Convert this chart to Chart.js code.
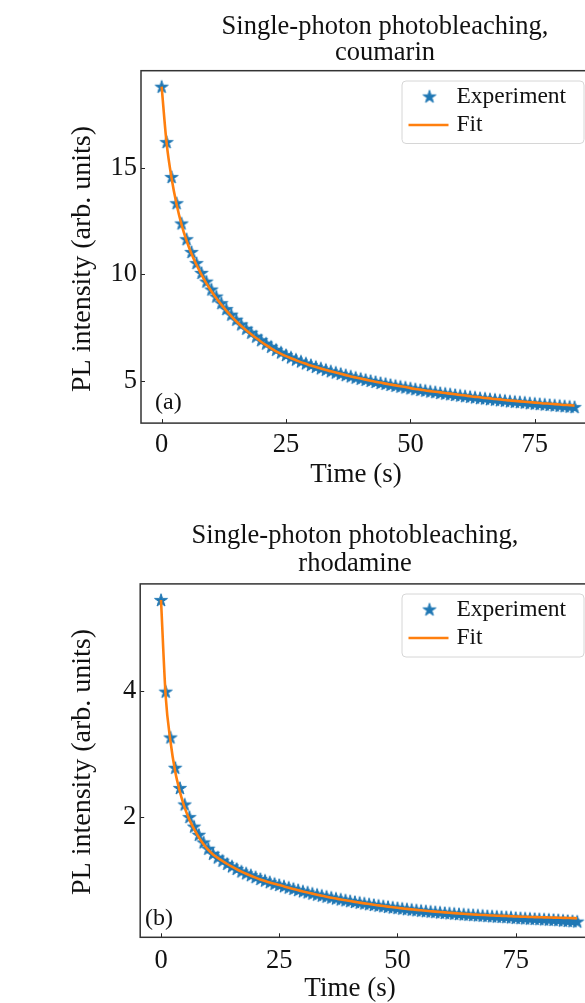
<!DOCTYPE html>
<html>
<head>
<meta charset="utf-8">
<script src="https://cdn.jsdelivr.net/npm/chart.js@4.4.0/dist/chart.umd.min.js"></script>
<style>
    html, body { margin: 0; padding: 0; background: #fff; overflow: hidden; width: 585px; height: 1003px; }
    .panel { position: absolute; left: 0; }
</style>
</head>
<body>
<canvas id="coumarinChart" class="panel" style="top:0" width="700" height="500"></canvas>
<canvas id="rhodamineChart" class="panel" style="top:500px" width="700" height="503"></canvas>
<script>
// Single-photon photobleaching data
const coumarinTime = [
    0, 1, 2, 3, 4, 5, 6, 7, 8, 9,
    10, 11, 12, 13, 14, 15, 16, 17, 18, 19,
    20, 21, 22, 23, 24, 25, 26, 27, 28, 29,
    30, 31, 32, 33, 34, 35, 36, 37, 38, 39,
    40, 41, 42, 43, 44, 45, 46, 47, 48, 49,
    50, 51, 52, 53, 54, 55, 56, 57, 58, 59,
    60, 61, 62, 63, 64, 65, 66, 67, 68, 69,
    70, 71, 72, 73, 74, 75, 76, 77, 78, 79,
    80, 81, 82, 83
];
const coumarinExperiment = [
    18.8, 16.2, 14.56, 13.33, 12.38, 11.64, 11.04, 10.52, 10.06, 9.65,
    9.28, 8.95, 8.64, 8.36, 8.1, 7.86, 7.64, 7.44, 7.25, 7.07,
    6.9, 6.74, 6.59, 6.45, 6.32, 6.2, 6.09, 5.99, 5.9, 5.81,
    5.73, 5.65, 5.58, 5.51, 5.44, 5.38, 5.32, 5.26, 5.2, 5.14,
    5.09, 5.04, 4.99, 4.94, 4.89, 4.85, 4.8, 4.76, 4.72, 4.68,
    4.64, 4.6, 4.56, 4.53, 4.49, 4.46, 4.42, 4.39, 4.36, 4.33,
    4.3, 4.27, 4.24, 4.21, 4.18, 4.16, 4.13, 4.11, 4.08, 4.06,
    4.03, 4.01, 3.99, 3.97, 3.94, 3.92, 3.9, 3.88, 3.86, 3.84,
    3.82, 3.8, 3.78, 3.76
];
const coumarinFit = [
    18.8, 16.15, 14.5, 13.28, 12.33, 11.58, 10.96, 10.44, 9.98, 9.57,
    9.2, 8.87, 8.57, 8.29, 8.03, 7.79, 7.57, 7.37, 7.18, 7.0,
    6.83, 6.67, 6.52, 6.38, 6.26, 6.15, 6.05, 5.96, 5.87, 5.79,
    5.71, 5.64, 5.57, 5.5, 5.44, 5.38, 5.32, 5.26, 5.2, 5.15,
    5.1, 5.05, 5.0, 4.95, 4.91, 4.86, 4.82, 4.78, 4.74, 4.7,
    4.65, 4.61, 4.58, 4.54, 4.51, 4.48, 4.45, 4.42, 4.39, 4.36,
    4.33, 4.3, 4.27, 4.24, 4.22, 4.19, 4.17, 4.14, 4.12, 4.09,
    4.07, 4.05, 4.03, 4.01, 3.99, 3.97, 3.95, 3.93, 3.92, 3.9,
    3.88, 3.86, 3.85, 3.83
];

const rhodamineTime = [
    0, 1, 2, 3, 4, 5, 6, 7, 8, 9,
    10, 11, 12, 13, 14, 15, 16, 17, 18, 19,
    20, 21, 22, 23, 24, 25, 26, 27, 28, 29,
    30, 31, 32, 33, 34, 35, 36, 37, 38, 39,
    40, 41, 42, 43, 44, 45, 46, 47, 48, 49,
    50, 51, 52, 53, 54, 55, 56, 57, 58, 59,
    60, 61, 62, 63, 64, 65, 66, 67, 68, 69,
    70, 71, 72, 73, 74, 75, 76, 77, 78, 79,
    80, 81, 82, 83, 84, 85, 86, 87, 88
];
const rhodamineExperiment = [
    5.435, 3.985, 3.26, 2.78, 2.46, 2.2, 2.0, 1.85, 1.72, 1.6,
    1.5, 1.42, 1.36, 1.31, 1.26, 1.22, 1.18, 1.14, 1.11, 1.08,
    1.05, 1.02, 0.995, 0.97, 0.945, 0.925, 0.905, 0.885, 0.865, 0.845,
    0.825, 0.808, 0.79, 0.773, 0.757, 0.741, 0.726, 0.711, 0.697, 0.683,
    0.67, 0.657, 0.645, 0.633, 0.621, 0.61, 0.599, 0.589, 0.579, 0.569,
    0.56, 0.551, 0.542, 0.534, 0.526, 0.518, 0.511, 0.504, 0.497, 0.49,
    0.483, 0.477, 0.471, 0.465, 0.459, 0.454, 0.449, 0.444, 0.439, 0.434,
    0.43, 0.425, 0.421, 0.417, 0.413, 0.405, 0.401, 0.397, 0.393, 0.389,
    0.385, 0.381, 0.377, 0.373, 0.369, 0.362, 0.357, 0.352, 0.347
];
const rhodamineFit = [
    5.435, 3.9, 3.2, 2.72, 2.4, 2.15, 1.96, 1.81, 1.68, 1.57,
    1.48, 1.41, 1.355, 1.305, 1.258, 1.215, 1.175, 1.138, 1.104, 1.072,
    1.042, 1.014, 0.988, 0.964, 0.944, 0.925, 0.903, 0.882, 0.862, 0.843,
    0.824, 0.806, 0.789, 0.772, 0.756, 0.74, 0.725, 0.711, 0.697, 0.684,
    0.671, 0.659, 0.647, 0.635, 0.624, 0.613, 0.603, 0.593, 0.583, 0.574,
    0.565, 0.556, 0.548, 0.54, 0.532, 0.525, 0.518, 0.511, 0.504, 0.498,
    0.492, 0.486, 0.48, 0.475, 0.47, 0.465, 0.46, 0.456, 0.452, 0.448,
    0.444, 0.44, 0.437, 0.434, 0.431, 0.428, 0.425, 0.422, 0.42, 0.418,
    0.416, 0.414, 0.412, 0.41, 0.408, 0.406, 0.404, 0.402, 0.4
];

// tick labels
const timeTicks = [0, 25, 50, 75];
const coumarinTicks = [5, 10, 15];
const rhodamineTicks = [2, 4];

const FONT = "'Liberation Serif', 'Times New Roman', serif";
const BLUE = '#1f77b4';
const ORANGE = '#ff7f0e';

// filled five-point star, like matplotlib's '*' marker
function makeStar(radius) {
    const size = Math.ceil(radius * 2 + 4);
    const c = document.createElement('canvas');
    c.width = size;
    c.height = size;
    const ctx = c.getContext('2d');
    const cx = size / 2, cy = size / 2 + 0.5;
    const inner = radius * 0.382;
    ctx.beginPath();
    for (let i = 0; i < 10; i++) {
        const r = i % 2 === 0 ? radius : inner;
        const a = -Math.PI / 2 + i * Math.PI / 5;
        const px = cx + r * Math.cos(a);
        const py = cy + r * Math.sin(a);
        if (i === 0) ctx.moveTo(px, py); else ctx.lineTo(px, py);
    }
    ctx.closePath();
    ctx.fillStyle = BLUE;
    ctx.fill();
    ctx.strokeStyle = BLUE;
    ctx.lineWidth = 1;
    ctx.lineJoin = 'round';
    ctx.stroke();
    return c;
}
const starMarker = makeStar(6.8);

function toPoints(xs, ys) {
    return xs.map((x, i) => ({ x: x, y: ys[i] }));
}

// frame, inward ticks, titles, panel label and legend
function decorPlugin(cfg) {
    return {
        id: 'decor',
        afterDraw(chart) {
            const ctx = chart.ctx;
            const area = chart.chartArea;
            const xs = chart.scales.x, ys = chart.scales.y;
            ctx.save();

            // inward ticks
            ctx.strokeStyle = '#222';
            ctx.lineWidth = 1;
            ctx.beginPath();
            cfg.xTicks.forEach(v => {
                const px = Math.round(xs.getPixelForValue(v)) + 0.5;
                ctx.moveTo(px, area.bottom);
                ctx.lineTo(px, area.bottom - 4);
            });
            cfg.yTicks.forEach(v => {
                const py = Math.round(ys.getPixelForValue(v)) + 0.5;
                ctx.moveTo(area.left, py);
                ctx.lineTo(area.left + 4, py);
            });
            ctx.stroke();

            // axes frame
            ctx.strokeStyle = '#333';
            ctx.lineWidth = 1.5;
            ctx.strokeRect(area.left, area.top, area.right - area.left, area.bottom - area.top);

            ctx.fillStyle = '#111';
            ctx.textAlign = 'center';
            ctx.textBaseline = 'alphabetic';

            // title
            ctx.font = '26.5px ' + FONT;
            cfg.title.forEach((line, i) => {
                ctx.fillText(line, cfg.titleX, cfg.titleY[i]);
            });

            // axis labels
            ctx.font = '27px ' + FONT;
            ctx.fillText('Time (s)', cfg.xLabelX, cfg.xLabelY);
            ctx.save();
            ctx.translate(cfg.yLabelX, cfg.yLabelY);
            ctx.rotate(-Math.PI / 2);
            ctx.textBaseline = 'middle';
            ctx.font = '28px ' + FONT;
            ctx.fillText('PL intensity (arb. units)', 0, 0);
            ctx.restore();

            // panel label
            ctx.textAlign = 'left';
            ctx.font = '24px ' + FONT;
            ctx.fillText(cfg.panel, cfg.panelX, cfg.panelY);

            // legend
            const lg = cfg.legend;
            ctx.beginPath();
            ctx.roundRect(lg.x + 0.5, lg.y + 0.5, lg.w, lg.h, 4);
            ctx.fillStyle = 'rgba(255,255,255,0.8)';
            ctx.fill();
            ctx.strokeStyle = '#d6d6d6';
            ctx.lineWidth = 1;
            ctx.stroke();

            ctx.drawImage(starMarker, lg.x + 28 - starMarker.width / 2, lg.y + 16 - starMarker.height / 2);
            ctx.strokeStyle = ORANGE;
            ctx.lineWidth = 2.5;
            ctx.beginPath();
            ctx.moveTo(lg.x + 7, lg.y + 44.5);
            ctx.lineTo(lg.x + 47, lg.y + 44.5);
            ctx.stroke();

            ctx.fillStyle = '#111';
            ctx.font = '23.5px ' + FONT;
            ctx.textBaseline = 'middle';
            ctx.fillText('Experiment', lg.x + 55, lg.y + 16);
            ctx.fillText('Fit', lg.x + 55, lg.y + 44);

            ctx.restore();
        }
    };
}

function createDecayChart(canvasId, time, experiment, fit, opts) {
    const ctx = document.getElementById(canvasId).getContext('2d');
    return new Chart(ctx, {
        type: 'scatter',
        data: {
            datasets: [
                {
                    label: 'Experiment',
                    data: toPoints(time, experiment),
                    showLine: false,
                    pointStyle: starMarker,
                    pointRadius: 7,
                    order: 2
                },
                {
                    label: 'Fit',
                    data: toPoints(time, fit),
                    showLine: true,
                    borderColor: ORANGE,
                    borderWidth: 2.6,
                    pointRadius: 0,
                    cubicInterpolationMode: 'monotone',
                    order: 1
                }
            ]
        },
        options: {
            responsive: false,
            animation: false,
            events: [],
            layout: { padding: opts.padding },
            plugins: {
                legend: { display: false },
                title: { display: false },
                tooltip: { enabled: false }
            },
            scales: {
                x: {
                    type: 'linear',
                    min: opts.xMin,
                    max: opts.xMax,
                    grid: { display: false, drawTicks: false },
                    border: { display: false },
                    ticks: {
                        padding: opts.xTickPad,
                        color: '#111',
                        font: { family: FONT, size: 26.5 }
                    },
                    afterBuildTicks: scale => { scale.ticks = timeTicks.map(v => ({ value: v })); },
                    afterFit: scale => { scale.height = 40; }
                },
                y: {
                    type: 'linear',
                    min: opts.yMin,
                    max: opts.yMax,
                    grid: { display: false, drawTicks: false },
                    border: { display: false },
                    ticks: {
                        padding: 4,
                        color: '#111',
                        font: { family: FONT, size: 26.5 }
                    },
                    afterBuildTicks: scale => { scale.ticks = opts.yTicks.map(v => ({ value: v })); },
                    afterFit: scale => { scale.width = opts.yWidth; }
                }
            }
        },
        plugins: [decorPlugin(opts.decor)]
    });
}

createDecayChart('coumarinChart', coumarinTime, coumarinExperiment, coumarinFit, {
    xMin: -4.15, xMax: 87.15,
    yMin: 3.008, yMax: 19.552,
    yTicks: coumarinTicks,
    yWidth: 141,
    xTickPad: 6,
    padding: { left: 0, top: 70.7, right: 104.8, bottom: 36.9 },
    decor: {
        xTicks: timeTicks, yTicks: coumarinTicks,
        title: ['Single-photon photobleaching,', 'coumarin'],
        titleX: 385, titleY: [34, 60],
        xLabelX: 356, xLabelY: 482,
        yLabelX: 83, yLabelY: 259,
        panel: '(a)', panelX: 155, panelY: 409,
        legend: { x: 401.5, y: 80.5, w: 182, h: 62.5 }
    }
});

createDecayChart('rhodamineChart', rhodamineTime, rhodamineExperiment, rhodamineFit, {
    xMin: -4.4, xMax: 92.4,
    yMin: 0.098, yMax: 5.69,
    yTicks: rhodamineTicks,
    yWidth: 140.2,
    xTickPad: 8,
    padding: { left: 0, top: 83.9, right: 102, bottom: 25.7 },
    decor: {
        xTicks: timeTicks, yTicks: rhodamineTicks,
        title: ['Single-photon photobleaching,', 'rhodamine'],
        titleX: 355, titleY: [43, 71],
        xLabelX: 350, xLabelY: 496,
        yLabelX: 83, yLabelY: 262,
        panel: '(b)', panelX: 145, panelY: 425,
        legend: { x: 401.5, y: 93.5, w: 182, h: 63 }
    }
});
</script>
</body>
</html>
